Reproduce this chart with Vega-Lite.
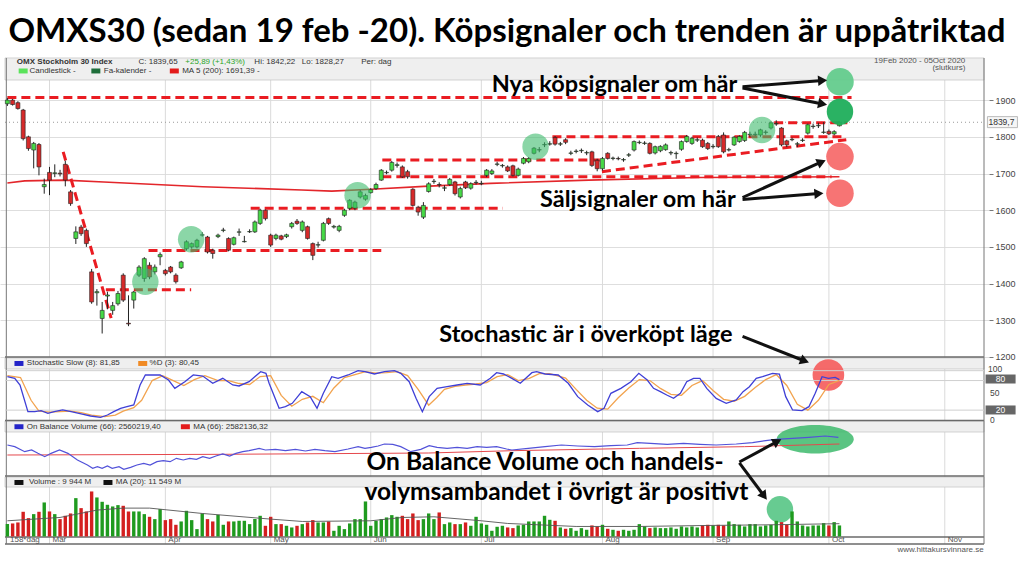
{
"$schema":"https://vega.github.io/schema/vega-lite/v6.json",
"width":989,"height":576,"padding":0,"background":"white",
"config":{"view":{"stroke":null},"font":"Liberation Sans"},
"datasets":{
"px":[{"i":0,"o":1890,"h":1906,"l":1884,"c":1900,"v":11.1},{"i":1,"o":1900,"h":1903,"l":1885,"c":1888,"v":11.7},{"i":2,"o":1893,"h":1897,"l":1874,"c":1877,"v":12.6},{"i":3,"o":1873,"h":1876,"l":1790,"c":1795,"v":22.2},{"i":4,"o":1800,"h":1803,"l":1762,"c":1768,"v":16.5},{"i":5,"o":1764,"h":1786,"l":1714,"c":1782,"v":20.1},{"i":6,"o":1779,"h":1783,"l":1695,"c":1718,"v":22.2},{"i":7,"o":1664,"h":1686,"l":1645,"c":1670,"v":30.6},{"i":8,"o":1703,"h":1718,"l":1641,"c":1682,"v":22.5},{"i":9,"o":1700,"h":1725,"l":1690,"c":1702,"v":20.1},{"i":10,"o":1701,"h":1710,"l":1692,"c":1699,"v":15.6},{"i":11,"o":1725,"h":1735,"l":1665,"c":1682,"v":18.6},{"i":12,"o":1650,"h":1655,"l":1612,"c":1618,"v":20.7},{"i":13,"o":1523,"h":1556,"l":1508,"c":1541,"v":34.5},{"i":14,"o":1554,"h":1560,"l":1530,"c":1536,"v":25.5},{"i":15,"o":1545,"h":1550,"l":1500,"c":1509,"v":22.5},{"i":16,"o":1432,"h":1440,"l":1345,"c":1350,"v":40.5},{"i":17,"o":1375,"h":1385,"l":1340,"c":1378,"v":35.1},{"i":18,"o":1305,"h":1350,"l":1264,"c":1327,"v":31.2},{"i":19,"o":1366,"h":1378,"l":1330,"c":1369,"v":28.5},{"i":20,"o":1327,"h":1350,"l":1315,"c":1340,"v":27.0},{"i":21,"o":1345,"h":1380,"l":1340,"c":1373,"v":28.2},{"i":22,"o":1423,"h":1428,"l":1350,"c":1355,"v":27.6},{"i":23,"o":1292,"h":1368,"l":1284,"c":1290,"v":22.5},{"i":24,"o":1355,"h":1380,"l":1332,"c":1377,"v":22.5},{"i":25,"o":1423,"h":1450,"l":1418,"c":1445,"v":22.5},{"i":26,"o":1414,"h":1472,"l":1405,"c":1468,"v":20.1},{"i":27,"o":1450,"h":1458,"l":1412,"c":1418,"v":17.7},{"i":28,"o":1432,"h":1452,"l":1425,"c":1445,"v":15.6},{"i":29,"o":1473,"h":1485,"l":1450,"c":1479,"v":24.6},{"i":30,"o":1436,"h":1440,"l":1422,"c":1427,"v":14.7},{"i":31,"o":1445,"h":1448,"l":1428,"c":1432,"v":15.6},{"i":32,"o":1423,"h":1428,"l":1400,"c":1405,"v":10.5},{"i":33,"o":1443,"h":1462,"l":1440,"c":1459,"v":13.5},{"i":34,"o":1495,"h":1518,"l":1490,"c":1514,"v":23.1},{"i":35,"o":1500,"h":1512,"l":1495,"c":1509,"v":14.7},{"i":36,"o":1500,"h":1522,"l":1496,"c":1518,"v":6.6},{"i":37,"o":1532,"h":1540,"l":1528,"c":1533,"v":20.7},{"i":38,"o":1527,"h":1530,"l":1482,"c":1486,"v":15.6},{"i":39,"o":1491,"h":1495,"l":1468,"c":1482,"v":13.5},{"i":40,"o":1528,"h":1536,"l":1524,"c":1532,"v":19.5},{"i":41,"o":1545,"h":1552,"l":1540,"c":1546,"v":10.5},{"i":42,"o":1523,"h":1526,"l":1488,"c":1491,"v":13.5},{"i":43,"o":1507,"h":1528,"l":1504,"c":1525,"v":13.5},{"i":44,"o":1540,"h":1550,"l":1530,"c":1541,"v":14.1},{"i":45,"o":1514,"h":1530,"l":1512,"c":1515,"v":14.1},{"i":46,"o":1541,"h":1548,"l":1538,"c":1542,"v":11.1},{"i":47,"o":1541,"h":1572,"l":1538,"c":1568,"v":15.6},{"i":48,"o":1564,"h":1604,"l":1560,"c":1600,"v":18.6},{"i":49,"o":1600,"h":1602,"l":1572,"c":1577,"v":9.6},{"i":50,"o":1532,"h":1536,"l":1500,"c":1505,"v":17.7},{"i":51,"o":1523,"h":1536,"l":1518,"c":1532,"v":11.1},{"i":52,"o":1530,"h":1533,"l":1518,"c":1521,"v":11.1},{"i":53,"o":1528,"h":1536,"l":1524,"c":1533,"v":9.6},{"i":54,"o":1555,"h":1568,"l":1550,"c":1564,"v":8.1},{"i":55,"o":1570,"h":1576,"l":1560,"c":1564,"v":9.6},{"i":56,"o":1545,"h":1572,"l":1540,"c":1568,"v":11.1},{"i":57,"o":1555,"h":1558,"l":1520,"c":1523,"v":12.6},{"i":58,"o":1509,"h":1512,"l":1464,"c":1477,"v":14.7},{"i":59,"o":1505,"h":1514,"l":1498,"c":1506,"v":12.6},{"i":60,"o":1518,"h":1568,"l":1515,"c":1564,"v":12.6},{"i":61,"o":1577,"h":1580,"l":1560,"c":1564,"v":13.5},{"i":62,"o":1554,"h":1560,"l":1550,"c":1556,"v":5.1},{"i":63,"o":1545,"h":1560,"l":1540,"c":1556,"v":9.6},{"i":64,"o":1586,"h":1604,"l":1582,"c":1600,"v":6.6},{"i":65,"o":1605,"h":1630,"l":1600,"c":1627,"v":11.7},{"i":66,"o":1606,"h":1626,"l":1600,"c":1622,"v":15.6},{"i":67,"o":1636,"h":1655,"l":1632,"c":1650,"v":15.6},{"i":68,"o":1630,"h":1645,"l":1626,"c":1640,"v":31.5},{"i":69,"o":1648,"h":1660,"l":1645,"c":1656,"v":9.6},{"i":70,"o":1659,"h":1675,"l":1655,"c":1670,"v":14.1},{"i":71,"o":1682,"h":1712,"l":1680,"c":1709,"v":15.6},{"i":72,"o":1702,"h":1708,"l":1698,"c":1703,"v":17.1},{"i":73,"o":1709,"h":1734,"l":1705,"c":1730,"v":19.2},{"i":74,"o":1722,"h":1730,"l":1716,"c":1724,"v":17.7},{"i":75,"o":1718,"h":1722,"l":1688,"c":1691,"v":18.6},{"i":76,"o":1705,"h":1710,"l":1686,"c":1691,"v":15.6},{"i":77,"o":1657,"h":1660,"l":1610,"c":1613,"v":20.7},{"i":78,"o":1608,"h":1612,"l":1585,"c":1595,"v":14.7},{"i":79,"o":1581,"h":1622,"l":1576,"c":1613,"v":15.6},{"i":80,"o":1651,"h":1676,"l":1648,"c":1672,"v":20.7},{"i":81,"o":1678,"h":1685,"l":1672,"c":1679,"v":15.6},{"i":82,"o":1670,"h":1676,"l":1662,"c":1669,"v":21.6},{"i":83,"o":1660,"h":1668,"l":1652,"c":1661,"v":11.1},{"i":84,"o":1670,"h":1688,"l":1666,"c":1684,"v":12.6},{"i":85,"o":1677,"h":1680,"l":1640,"c":1645,"v":11.1},{"i":86,"o":1636,"h":1664,"l":1632,"c":1659,"v":11.1},{"i":87,"o":1677,"h":1680,"l":1658,"c":1661,"v":12.6},{"i":88,"o":1660,"h":1676,"l":1656,"c":1672,"v":9.6},{"i":89,"o":1675,"h":1682,"l":1670,"c":1676,"v":17.7},{"i":90,"o":1672,"h":1680,"l":1668,"c":1673,"v":11.7},{"i":91,"o":1695,"h":1712,"l":1690,"c":1709,"v":10.5},{"i":92,"o":1700,"h":1712,"l":1696,"c":1707,"v":5.1},{"i":93,"o":1725,"h":1732,"l":1720,"c":1726,"v":8.7},{"i":94,"o":1721,"h":1726,"l":1716,"c":1722,"v":9.6},{"i":95,"o":1718,"h":1722,"l":1704,"c":1707,"v":8.1},{"i":96,"o":1721,"h":1724,"l":1692,"c":1695,"v":7.5},{"i":97,"o":1695,"h":1716,"l":1692,"c":1712,"v":9.9},{"i":98,"o":1728,"h":1745,"l":1725,"c":1741,"v":10.5},{"i":99,"o":1732,"h":1745,"l":1728,"c":1741,"v":13.5},{"i":100,"o":1755,"h":1772,"l":1752,"c":1769,"v":13.5},{"i":101,"o":1764,"h":1772,"l":1758,"c":1765,"v":13.5},{"i":102,"o":1778,"h":1785,"l":1772,"c":1779,"v":18.6},{"i":103,"o":1780,"h":1788,"l":1776,"c":1781,"v":15.0},{"i":104,"o":1798,"h":1802,"l":1776,"c":1780,"v":14.1},{"i":105,"o":1780,"h":1786,"l":1775,"c":1781,"v":8.1},{"i":106,"o":1792,"h":1796,"l":1780,"c":1785,"v":6.9},{"i":107,"o":1755,"h":1762,"l":1750,"c":1756,"v":7.5},{"i":108,"o":1760,"h":1766,"l":1755,"c":1761,"v":5.1},{"i":109,"o":1762,"h":1768,"l":1756,"c":1763,"v":7.5},{"i":110,"o":1756,"h":1762,"l":1750,"c":1757,"v":6.0},{"i":111,"o":1759,"h":1762,"l":1718,"c":1722,"v":9.9},{"i":112,"o":1736,"h":1740,"l":1706,"c":1713,"v":9.0},{"i":113,"o":1713,"h":1745,"l":1708,"c":1741,"v":10.5},{"i":114,"o":1755,"h":1758,"l":1738,"c":1741,"v":6.9},{"i":115,"o":1741,"h":1746,"l":1736,"c":1742,"v":6.0},{"i":116,"o":1741,"h":1746,"l":1736,"c":1740,"v":5.1},{"i":117,"o":1737,"h":1742,"l":1732,"c":1738,"v":6.0},{"i":118,"o":1750,"h":1756,"l":1745,"c":1751,"v":5.1},{"i":119,"o":1764,"h":1790,"l":1760,"c":1787,"v":6.0},{"i":120,"o":1784,"h":1790,"l":1780,"c":1785,"v":11.1},{"i":121,"o":1782,"h":1788,"l":1778,"c":1783,"v":9.0},{"i":122,"o":1782,"h":1785,"l":1752,"c":1755,"v":7.5},{"i":123,"o":1756,"h":1776,"l":1752,"c":1773,"v":8.1},{"i":124,"o":1762,"h":1777,"l":1758,"c":1774,"v":7.5},{"i":125,"o":1765,"h":1782,"l":1762,"c":1778,"v":7.5},{"i":126,"o":1756,"h":1762,"l":1750,"c":1757,"v":8.1},{"i":127,"o":1754,"h":1760,"l":1740,"c":1755,"v":6.9},{"i":128,"o":1766,"h":1790,"l":1762,"c":1787,"v":9.0},{"i":129,"o":1787,"h":1805,"l":1784,"c":1801,"v":8.1},{"i":130,"o":1782,"h":1800,"l":1778,"c":1796,"v":9.0},{"i":131,"o":1791,"h":1798,"l":1786,"c":1792,"v":8.1},{"i":132,"o":1791,"h":1795,"l":1770,"c":1773,"v":9.9},{"i":133,"o":1782,"h":1786,"l":1764,"c":1768,"v":10.5},{"i":134,"o":1773,"h":1780,"l":1768,"c":1774,"v":9.9},{"i":135,"o":1801,"h":1805,"l":1770,"c":1773,"v":10.5},{"i":136,"o":1805,"h":1812,"l":1755,"c":1759,"v":9.9},{"i":137,"o":1764,"h":1770,"l":1760,"c":1765,"v":13.5},{"i":138,"o":1778,"h":1802,"l":1775,"c":1799,"v":11.1},{"i":139,"o":1787,"h":1804,"l":1784,"c":1801,"v":10.5},{"i":140,"o":1790,"h":1816,"l":1786,"c":1812,"v":9.0},{"i":141,"o":1806,"h":1814,"l":1800,"c":1807,"v":11.1},{"i":142,"o":1806,"h":1814,"l":1802,"c":1807,"v":11.1},{"i":143,"o":1805,"h":1822,"l":1800,"c":1819,"v":9.0},{"i":144,"o":1812,"h":1818,"l":1806,"c":1813,"v":9.9},{"i":145,"o":1824,"h":1842,"l":1820,"c":1838,"v":10.5},{"i":146,"o":1835,"h":1845,"l":1830,"c":1836,"v":14.1},{"i":147,"o":1824,"h":1826,"l":1774,"c":1778,"v":12.9},{"i":148,"o":1789,"h":1792,"l":1772,"c":1778,"v":10.5},{"i":149,"o":1792,"h":1798,"l":1788,"c":1793,"v":22.5},{"i":150,"o":1780,"h":1786,"l":1772,"c":1781,"v":13.5},{"i":151,"o":1790,"h":1796,"l":1786,"c":1791,"v":9.9},{"i":152,"o":1810,"h":1836,"l":1806,"c":1833,"v":9.0},{"i":153,"o":1828,"h":1836,"l":1822,"c":1829,"v":9.9},{"i":154,"o":1830,"h":1838,"l":1824,"c":1831,"v":9.9},{"i":155,"o":1812,"h":1840,"l":1808,"c":1813,"v":12.0},{"i":156,"o":1815,"h":1820,"l":1805,"c":1808,"v":9.9},{"i":157,"o":1808,"h":1818,"l":1804,"c":1814,"v":12.9},{"i":158,"o":1830,"h":1842.22,"l":1828.27,"c":1839.65,"v":9.9}],
"ma":[{"i":0,"p":1674},{"i":3.3,"p":1680},{"i":10.8,"p":1682},{"i":18.3,"p":1677},{"i":37.1,"p":1664},{"i":55.9,"p":1655},{"i":61.6,"p":1652},{"i":69.1,"p":1657},{"i":79.1,"p":1665},{"i":91.7,"p":1673},{"i":110.4,"p":1682},{"i":131.1,"p":1689},{"i":158,"p":1691}],
"dl":[{"i":0,"p":1907,"i2":160.3,"p2":1907},{"i":10.6,"p":1759,"i2":19.7,"p2":1306},{"i":18.7,"p":1383,"i2":34.9,"p2":1383},{"i":26.8,"p":1490,"i2":71,"p2":1490},{"i":46.2,"p":1605,"i2":94.1,"p2":1605},{"i":71.2,"p":1737,"i2":112.5,"p2":1737},{"i":71.2,"p":1691,"i2":156.5,"p2":1691},{"i":103.5,"p":1800,"i2":159.3,"p2":1800},{"i":145.6,"p":1838,"i2":159.5,"p2":1838},{"i":112.9,"p":1705,"i2":159.3,"p2":1792}],
"sig":[{"i":26.2,"p":1405},{"i":34.9,"p":1521},{"i":66.5,"p":1641},{"i":100.3,"p":1773},{"i":143.3,"p":1818.6}],
"rc":[{"i":158.1,"p":1950,"k":"g1"},{"i":158.1,"p":1868.5,"k":"g2"},{"i":158.1,"p":1746,"k":"r"},{"i":158.1,"p":1646,"k":"r"}],
"stk":[{"i":0,"s":87.9},{"i":1.4,"s":84.5},{"i":2.4,"s":71},{"i":3.9,"s":16.9},{"i":5.2,"s":16.9},{"i":6.4,"s":18.9},{"i":7.7,"s":13.5},{"i":8.9,"s":16.9},{"i":10.5,"s":20.3},{"i":12.1,"s":16.9},{"i":14,"s":12.2},{"i":15.8,"s":8.1},{"i":17.7,"s":5.4},{"i":19,"s":10.1},{"i":20.2,"s":16.9},{"i":21.5,"s":23.7},{"i":22.7,"s":27},{"i":24,"s":30.4},{"i":25.2,"s":71},{"i":26.2,"s":91.3},{"i":29,"s":91.3},{"i":30.6,"s":81.1},{"i":31.8,"s":64.2},{"i":33.7,"s":77.7},{"i":35.3,"s":91.3},{"i":37.1,"s":89.2},{"i":39,"s":74.4},{"i":40.9,"s":84.5},{"i":42.8,"s":71},{"i":44,"s":69},{"i":45.9,"s":77.7},{"i":48.1,"s":98},{"i":49.1,"s":94.6},{"i":49.7,"s":74.4},{"i":51.6,"s":23.7},{"i":52.8,"s":27},{"i":54.1,"s":33.8},{"i":55.9,"s":57.5},{"i":57.5,"s":47.3},{"i":58.8,"s":23.7},{"i":60,"s":54.1},{"i":61.6,"s":87.9},{"i":62.8,"s":84.5},{"i":64.7,"s":91.3},{"i":66.6,"s":100},{"i":67.9,"s":98},{"i":69.7,"s":93.3},{"i":71.6,"s":98},{"i":73.5,"s":100},{"i":74.7,"s":94.6},{"i":76.3,"s":77.7},{"i":77.6,"s":43.9},{"i":78.8,"s":16.9},{"i":80.1,"s":47.3},{"i":81.6,"s":64.2},{"i":83.5,"s":67.6},{"i":85.4,"s":71},{"i":87.3,"s":74.4},{"i":89.8,"s":71},{"i":91.7,"s":84.5},{"i":92.9,"s":96},{"i":94.2,"s":93.3},{"i":95.8,"s":84.5},{"i":97.4,"s":74.4},{"i":99.6,"s":96},{"i":100.5,"s":98},{"i":102.1,"s":93.3},{"i":104.6,"s":91.3},{"i":106.5,"s":74.4},{"i":108.3,"s":47.3},{"i":110.2,"s":30.4},{"i":112.1,"s":16.9},{"i":113.3,"s":23.7},{"i":114.6,"s":54.1},{"i":116.5,"s":64.2},{"i":118.4,"s":77.7},{"i":119.9,"s":94.6},{"i":121.5,"s":81.1},{"i":122.7,"s":64.2},{"i":124,"s":57.5},{"i":125.2,"s":50.7},{"i":126.5,"s":43.9},{"i":127.8,"s":54.1},{"i":129,"s":77.7},{"i":130.3,"s":84.5},{"i":131.5,"s":84.5},{"i":132.8,"s":64.2},{"i":134.6,"s":43.9},{"i":136.5,"s":33.8},{"i":138.4,"s":40.6},{"i":139.7,"s":57.5},{"i":140.9,"s":67.6},{"i":142.2,"s":84.5},{"i":143.4,"s":87.9},{"i":145.3,"s":94.6},{"i":146.6,"s":93.3},{"i":147.8,"s":47.3},{"i":149.1,"s":20.3},{"i":150.9,"s":18.9},{"i":152.2,"s":27},{"i":153.4,"s":54.1},{"i":154.7,"s":87.9},{"i":155.9,"s":84.5},{"i":157.2,"s":86.5},{"i":158,"s":81.9}],
"std":[{"i":0,"s":90},{"i":2.5,"s":86},{"i":4.5,"s":40},{"i":6,"s":18},{"i":8,"s":16},{"i":10,"s":17},{"i":12,"s":18},{"i":14,"s":15},{"i":16,"s":10},{"i":18.5,"s":7},{"i":20.5,"s":10},{"i":22,"s":18},{"i":24,"s":25},{"i":25.5,"s":40},{"i":27.5,"s":80},{"i":29.5,"s":90},{"i":31.5,"s":80},{"i":33.5,"s":70},{"i":35.5,"s":82},{"i":37.5,"s":90},{"i":40,"s":80},{"i":42,"s":80},{"i":44,"s":74},{"i":46,"s":72},{"i":48,"s":88},{"i":50,"s":90},{"i":52,"s":50},{"i":54,"s":28},{"i":56,"s":42},{"i":58,"s":48},{"i":60,"s":35},{"i":62,"s":65},{"i":64,"s":86},{"i":66,"s":92},{"i":68,"s":98},{"i":70,"s":95},{"i":72,"s":96},{"i":74,"s":98},{"i":76,"s":90},{"i":78,"s":62},{"i":80,"s":30},{"i":81.5,"s":45},{"i":83,"s":62},{"i":85,"s":68},{"i":87,"s":71},{"i":89,"s":73},{"i":91,"s":76},{"i":93,"s":88},{"i":95,"s":92},{"i":97,"s":80},{"i":99,"s":84},{"i":101,"s":94},{"i":103,"s":94},{"i":106,"s":85},{"i":108,"s":62},{"i":110,"s":40},{"i":112,"s":24},{"i":114,"s":22},{"i":116,"s":45},{"i":118,"s":65},{"i":120,"s":82},{"i":122,"s":80},{"i":124,"s":64},{"i":126,"s":52},{"i":128,"s":50},{"i":130,"s":70},{"i":132,"s":80},{"i":134,"s":60},{"i":136,"s":42},{"i":138,"s":38},{"i":140,"s":48},{"i":142,"s":66},{"i":144,"s":82},{"i":146,"s":92},{"i":148,"s":70},{"i":150,"s":32},{"i":152,"s":20},{"i":154,"s":40},{"i":156,"s":72},{"i":158,"s":80.5}],
"obv":[{"i":0,"v":2715},{"i":1.4,"v":2710},{"i":3.3,"v":2695},{"i":4.6,"v":2700},{"i":5.8,"v":2690},{"i":7.1,"v":2680},{"i":8.3,"v":2690},{"i":9.9,"v":2700},{"i":11.5,"v":2690},{"i":13.3,"v":2670},{"i":15.2,"v":2655},{"i":16.2,"v":2645},{"i":17.1,"v":2650},{"i":18,"v":2645},{"i":19,"v":2652},{"i":19.9,"v":2645},{"i":21.2,"v":2650},{"i":22.1,"v":2642},{"i":23.4,"v":2648},{"i":24.6,"v":2655},{"i":25.9,"v":2660},{"i":27.1,"v":2655},{"i":28.4,"v":2665},{"i":29.6,"v":2668},{"i":30.9,"v":2665},{"i":32.1,"v":2675},{"i":33.4,"v":2670},{"i":34.6,"v":2675},{"i":35.9,"v":2672},{"i":37.1,"v":2680},{"i":38.4,"v":2675},{"i":39.6,"v":2682},{"i":40.9,"v":2688},{"i":42.2,"v":2682},{"i":43.4,"v":2690},{"i":44.7,"v":2695},{"i":45.9,"v":2698},{"i":47.8,"v":2705},{"i":49,"v":2700},{"i":50.9,"v":2702},{"i":52.8,"v":2698},{"i":54.7,"v":2702},{"i":56.6,"v":2697},{"i":58.4,"v":2702},{"i":60.3,"v":2698},{"i":62.2,"v":2695},{"i":64.7,"v":2703},{"i":66.6,"v":2710},{"i":67.9,"v":2705},{"i":69.1,"v":2708},{"i":70.4,"v":2712},{"i":71.6,"v":2718},{"i":73.2,"v":2717},{"i":74.7,"v":2710},{"i":76.6,"v":2695},{"i":78.5,"v":2702},{"i":80.1,"v":2713},{"i":81.6,"v":2708},{"i":83.5,"v":2705},{"i":85.4,"v":2708},{"i":87.3,"v":2705},{"i":89.2,"v":2710},{"i":91,"v":2708},{"i":92.9,"v":2710},{"i":94.8,"v":2703},{"i":95.8,"v":2700},{"i":98.9,"v":2705},{"i":102.1,"v":2710},{"i":105.2,"v":2715},{"i":108.3,"v":2712},{"i":111.5,"v":2710},{"i":114.6,"v":2713},{"i":117.7,"v":2715},{"i":119.6,"v":2722},{"i":122.1,"v":2720},{"i":125.3,"v":2717},{"i":128.4,"v":2720},{"i":131.5,"v":2717},{"i":134.6,"v":2715},{"i":138.4,"v":2718},{"i":141.5,"v":2722},{"i":144,"v":2728},{"i":145.9,"v":2732},{"i":149.1,"v":2735},{"i":152.2,"v":2738},{"i":155.3,"v":2742},{"i":157.8,"v":2738}],
"obvma":[{"i":0,"v":2685},{"i":40,"v":2687},{"i":80,"v":2691},{"i":96,"v":2698},{"i":120,"v":2705},{"i":140,"v":2710},{"i":158,"v":2718}],
"vma":[{"i":0,"v":14.1},{"i":10,"v":17.1},{"i":17,"v":23.7},{"i":22,"v":25.5},{"i":27,"v":25.5},{"i":37,"v":20.7},{"i":50,"v":15.6},{"i":56,"v":13.5},{"i":69,"v":14.1},{"i":75,"v":17.1},{"i":81,"v":17.7},{"i":90,"v":14.1},{"i":95,"v":11.7},{"i":108,"v":9.0},{"i":120,"v":9.0},{"i":133,"v":9.9},{"i":145,"v":10.5},{"i":158,"v":11.5}],
"months":[{"i":8,"t":"Mar"},{"i":30,"t":"Apr"},{"i":50,"t":"May"},{"i":69,"t":"Jun"},{"i":90,"t":"Jul"},{"i":113,"t":"Aug"},{"i":134,"t":"Sep"},{"i":156,"t":"Oct"},{"i":178,"t":"Nov"}],
"bands":[{"p":2014.8,"p2":1954.8},{"p":1197.3,"p2":1167.3},{"p":1025.6,"p2":995.6},{"p":872.9,"p2":845.6}],
"seps":[{"p":1200},{"p":1026.9},{"p":875.7},{"p":690.4},{"p":709.5}],
"hdr":[{"i":24.9,"p":2003,"t":"C: 1839,65"},{"i":46.9,"p":2003,"t":"Hi: 1842,22"},{"i":55.9,"p":2003,"t":"Lo: 1828,27"},{"i":67.2,"p":2003,"t":"Per: dag"},{"i":4.2,"p":1979.4,"t":"Candlestick  -"},{"i":18.3,"p":1979.4,"t":"Fa-kalender  -"},{"i":33.2,"p":1979.4,"t":"MA 5 (200): 1691,39  -"},{"i":3.7,"p":1182.3,"t":"Stochastic Slow (8): 81,85"},{"i":27,"p":1182.3,"t":"%D (3): 80,45"},{"i":3.7,"p":1010,"t":"On Balance Volume (66): 2560219,40"},{"i":35.3,"p":1010,"t":"MA (66): 2582136,32"},{"i":4.1,"p":858,"t":"Volume : 9 944 M"},{"i":20.6,"p":858,"t":"MA (20): 11 549 M"}],
"sq":[{"i":3.0,"p":1979.4,"k":"lg"},{"i":16.8,"p":1979.4,"k":"dg"},{"i":31.7,"p":1979.4,"k":"rd"},{"i":2.2,"p":1182.3,"k":"bl"},{"i":25.7,"p":1182.3,"k":"or"},{"i":2.2,"p":1010,"k":"bl"},{"i":33.8,"p":1010,"k":"rd"},{"i":2.2,"p":858,"k":"bk"},{"i":19.1,"p":858,"k":"bk"}],
"arrows":[{"i":139.6,"p":1936.6,"i2":154.8,"p2":1953.5,"a":86},{"i":139.6,"p":1933,"i2":154.8,"p2":1889.4,"a":101},{"i":139.6,"p":1634.6,"i2":154.6,"p2":1731.4,"a":66},{"i":139.6,"p":1629.2,"i2":154.1,"p2":1645.5,"a":85.5},{"i":139.6,"p":1255.9,"i2":151.4,"p2":1189.1,"a":111},{"i":139,"p":913.9,"i2":146.2,"p2":969.7,"a":62},{"i":139,"p":911.2,"i2":143.7,"p2":821.2,"a":143}],
"rl":[{"i":186.2,"p":1167,"t":"100"},{"i":186.6,"p":1102,"t":"50"},{"i":186.6,"p":1028,"t":"0"}],
"rb":[{"i":188.6,"p":1140,"t":"80"},{"i":188.6,"p":1055.6,"t":"20"}],
"sgrid":[{"s":100,"i":-0.45,"i2":185.45},{"s":80,"i":-0.45,"i2":185.45},{"s":20,"i":-0.45,"i2":185.45}],
"notes":[{"i":138.6,"p":1941,"t":"Nya köpsignaler om här","al":"r"},{"i":138.3,"p":1628,"t":"Säljsignaler om här","al":"r"},{"i":137.7,"p":1260,"t":"Stochastic är i överköpt läge","al":"r"},{"i":68.2,"p":911,"t":"On Balance Volume och handels-","al":"l"},{"i":67.8,"p":829,"t":"volymsambandet i övrigt är positivt","al":"l"}],
"heads":[{"i":1.8,"p":2003,"t":"OMX Stockholm 30 Index"}],
"chg":[{"i":33.8,"p":2003,"t":"+25,89 (+1,43%)"}],
"tr":[{"i":181.9,"p":2006.6,"t":"19Feb 2020 - 05Oct 2020"},{"i":181.9,"p":1987.5,"t":"(slutkurs)"},{"i":185.4,"p":674,"t":"www.hittakursvinnare.se"}],
"foot":[{"i":0.5,"p":700,"t":"158*dag"}],
"title":[{"i":0.2,"p":2085,"t":"OMXS30 (sedan 19 feb -20). Köpsignaler och trenden är uppåtriktad"}],
"lastpx":[{"i":186.1,"p":1840,"t":"1839,7","i2":191.8,"p1":1825,"p2":1855}],
"pcirc":[{"i":155.9,"p":1151,"k":"stoch"},{"i":146.7,"p":785,"k":"vol"}],
"pell":[{"i":153.4,"p":975.7}],
"frame":[{"i":-0.45,"i2":185.45,"p":1839.65}],
"vlines":[{"i":185.45,"p":2014.8,"p2":690.4},{"i":-0.2,"p":2014.8,"p2":690.4}]
},
"layer":[
{"layer":[
{"data":{"name":"months"},"mark":{"type":"rule","color":"#dadada","strokeWidth":1},"encoding":{"x":{"field":"i","type":"quantitative","scale":{"domain":[-0.45,185.45],"nice":false,"zero":false},"axis":null},"y":{"datum":1954.8,"axis":null},"y2":{"datum":690.4}}},
{"data":{"name":"bands"},"mark":{"type":"rect","fill":"#efefef","stroke":"#c8c8c8","strokeWidth":0.8},"encoding":{"x":{"datum":-0.45,"axis":null},"x2":{"datum":185.45},"y":{"field":"p","type":"quantitative","scale":{"domain":[603.2,2172.8],"nice":false,"zero":false},"axis":null},"y2":{"field":"p2"}}},
{"data":{"name":"seps"},"mark":{"type":"rule","color":"#6a6a6a","strokeWidth":1.6},"encoding":{"x":{"datum":-0.45,"axis":null},"x2":{"datum":185.45},"y":{"field":"p","type":"quantitative","axis":null}}},
{"data":{"name":"frame"},"mark":{"type":"rule","color":"#999","strokeDash":[1,3]},"encoding":{"x":{"field":"i","type":"quantitative","axis":null},"x2":{"field":"i2"},"y":{"field":"p","type":"quantitative","axis":null}}},
{"data":{"name":"vlines"},"mark":{"type":"rule","color":"#777","strokeWidth":1},"encoding":{"x":{"field":"i","type":"quantitative","axis":null},"y":{"field":"p","type":"quantitative","axis":null},"y2":{"field":"p2"}}},
{"data":{"name":"pcirc"},"transform":[{"filter":"datum.k == 'stoch'"}],"mark":{"type":"point","filled":true,"color":"#f55b5b","opacity":0.9,"size":1000},"encoding":{"x":{"field":"i","type":"quantitative","axis":null},"y":{"field":"p","type":"quantitative","axis":null}}},
{"data":{"name":"pcirc"},"transform":[{"filter":"datum.k == 'vol'"}],"mark":{"type":"point","filled":true,"color":"#4cc27e","opacity":0.85,"size":700},"encoding":{"x":{"field":"i","type":"quantitative","axis":null},"y":{"field":"p","type":"quantitative","axis":null}}},
{"data":{"name":"pell"},"mark":{"type":"point","filled":true,"color":"#3dba6c","opacity":0.85,"size":5929,"shape":"M -1 0 A 1 0.37 0 1 1 1 0 A 1 0.37 0 1 1 -1 0 Z"},"encoding":{"x":{"field":"i","type":"quantitative","axis":null},"y":{"field":"p","type":"quantitative","axis":null}}},
{"data":{"name":"ma"},"mark":{"type":"line","color":"#e3262b","strokeWidth":1.6},"encoding":{"x":{"field":"i","type":"quantitative","axis":null},"y":{"field":"p","type":"quantitative","axis":null}}},
{"data":{"name":"dl"},"mark":{"type":"rule","color":"#ea1c22","strokeWidth":3,"strokeDash":[9,5]},"encoding":{"x":{"field":"i","type":"quantitative","axis":null},"y":{"field":"p","type":"quantitative","axis":null},"x2":{"field":"i2"},"y2":{"field":"p2"}}}
]},
{"data":{"name":"px"},"mark":{"type":"rule","color":"#222","strokeWidth":1},"encoding":{"x":{"field":"i","type":"quantitative","scale":{"domain":[-0.45,185.45],"nice":false,"zero":false},"axis":null},"y":{"field":"l","type":"quantitative","scale":{"domain":[603.2,2172.8],"nice":false,"zero":false},"axis":{"orient":"right","values":[1200,1300,1400,1500,1600,1700,1800,1900],"format":"d","grid":true,"gridColor":"#dedede","domain":false,"tickColor":"#777","tickSize":4,"labelFontSize":9,"labelColor":"#444","labelPadding":2,"title":null}},"y2":{"field":"h"}}},
{"data":{"name":"px"},"mark":{"type":"bar","size":4,"stroke":"#222","strokeWidth":0.6},"encoding":{"x":{"field":"i","type":"quantitative","axis":null},"y":{"field":"o","type":"quantitative","scale":{"domain":[603.2,2172.8],"nice":false,"zero":false},"axis":null},"y2":{"field":"c"},"fill":{"condition":{"test":"datum.c >= datum.o","value":"#46d846"},"value":"#d62a2a"}}},
{"layer":[
{"data":{"name":"sig"},"mark":{"type":"point","filled":true,"size":700,"color":"#3dba6c","opacity":0.6},"encoding":{"x":{"field":"i","type":"quantitative","axis":null},"y":{"field":"p","type":"quantitative","scale":{"domain":[603.2,2172.8],"nice":false,"zero":false},"axis":null}}},
{"data":{"name":"rc"},"transform":[{"filter":"datum.k == 'g1'"}],"mark":{"type":"point","filled":true,"opacity":0.92,"size":760,"color":"#5fcb8a"},"encoding":{"x":{"field":"i","type":"quantitative","axis":null},"y":{"field":"p","type":"quantitative","axis":null}}},
{"data":{"name":"rc"},"transform":[{"filter":"datum.k == 'g2'"}],"mark":{"type":"point","filled":true,"opacity":0.95,"size":700,"color":"#1fae5b"},"encoding":{"x":{"field":"i","type":"quantitative","axis":null},"y":{"field":"p","type":"quantitative","axis":null}}},
{"data":{"name":"rc"},"transform":[{"filter":"datum.k == 'r'"}],"mark":{"type":"point","filled":true,"opacity":0.92,"size":760,"color":"#f66868"},"encoding":{"x":{"field":"i","type":"quantitative","axis":null},"y":{"field":"p","type":"quantitative","axis":null}}},
{"data":{"name":"hdr"},"mark":{"type":"text","align":"left","baseline":"middle","fontSize":8,"color":"#333"},"encoding":{"x":{"field":"i","type":"quantitative","axis":null},"y":{"field":"p","type":"quantitative","axis":null},"text":{"field":"t"}}},
{"data":{"name":"heads"},"mark":{"type":"text","align":"left","baseline":"middle","fontSize":8,"fontWeight":"bold","color":"#333"},"encoding":{"x":{"field":"i","type":"quantitative","axis":null},"y":{"field":"p","type":"quantitative","axis":null},"text":{"field":"t"}}},
{"data":{"name":"chg"},"mark":{"type":"text","align":"left","baseline":"middle","fontSize":8,"color":"#2aa52a"},"encoding":{"x":{"field":"i","type":"quantitative","axis":null},"y":{"field":"p","type":"quantitative","axis":null},"text":{"field":"t"}}},
{"data":{"name":"tr"},"mark":{"type":"text","align":"right","baseline":"middle","fontSize":8,"color":"#555"},"encoding":{"x":{"field":"i","type":"quantitative","axis":null},"y":{"field":"p","type":"quantitative","axis":null},"text":{"field":"t"}}},
{"data":{"name":"foot"},"mark":{"type":"text","align":"left","baseline":"middle","fontSize":8,"color":"#555"},"encoding":{"x":{"field":"i","type":"quantitative","axis":null},"y":{"field":"p","type":"quantitative","axis":null},"text":{"field":"t"}}},
{"data":{"name":"months"},"mark":{"type":"text","align":"left","baseline":"middle","fontSize":8,"color":"#555","dx":3},"encoding":{"x":{"field":"i","type":"quantitative","axis":null},"y":{"datum":700,"axis":null},"text":{"field":"t"}}},
{"data":{"name":"sq"},"transform":[{"filter":"datum.k == 'lg'"}],"mark":{"type":"point","filled":true,"opacity":1,"size":81,"color":"#5be35b","shape":"M -1 -0.55 L 1 -0.55 L 1 0.55 L -1 0.55 Z"},"encoding":{"x":{"field":"i","type":"quantitative","axis":null},"y":{"field":"p","type":"quantitative","axis":null}}},
{"data":{"name":"sq"},"transform":[{"filter":"datum.k == 'dg'"}],"mark":{"type":"point","filled":true,"opacity":1,"size":81,"color":"#1e6e3a","shape":"M -1 -0.55 L 1 -0.55 L 1 0.55 L -1 0.55 Z"},"encoding":{"x":{"field":"i","type":"quantitative","axis":null},"y":{"field":"p","type":"quantitative","axis":null}}},
{"data":{"name":"sq"},"transform":[{"filter":"datum.k == 'rd'"}],"mark":{"type":"point","filled":true,"opacity":1,"size":81,"color":"#e31b1b","shape":"M -1 -0.55 L 1 -0.55 L 1 0.55 L -1 0.55 Z"},"encoding":{"x":{"field":"i","type":"quantitative","axis":null},"y":{"field":"p","type":"quantitative","axis":null}}},
{"data":{"name":"sq"},"transform":[{"filter":"datum.k == 'bl'"}],"mark":{"type":"point","filled":true,"opacity":1,"size":81,"color":"#2424c8","shape":"M -1 -0.55 L 1 -0.55 L 1 0.55 L -1 0.55 Z"},"encoding":{"x":{"field":"i","type":"quantitative","axis":null},"y":{"field":"p","type":"quantitative","axis":null}}},
{"data":{"name":"sq"},"transform":[{"filter":"datum.k == 'or'"}],"mark":{"type":"point","filled":true,"opacity":1,"size":81,"color":"#f08a24","shape":"M -1 -0.55 L 1 -0.55 L 1 0.55 L -1 0.55 Z"},"encoding":{"x":{"field":"i","type":"quantitative","axis":null},"y":{"field":"p","type":"quantitative","axis":null}}},
{"data":{"name":"sq"},"transform":[{"filter":"datum.k == 'bk'"}],"mark":{"type":"point","filled":true,"opacity":1,"size":81,"color":"#111111","shape":"M -1 -0.55 L 1 -0.55 L 1 0.55 L -1 0.55 Z"},"encoding":{"x":{"field":"i","type":"quantitative","axis":null},"y":{"field":"p","type":"quantitative","axis":null}}}
]},
{"layer":[
{"data":{"name":"sgrid"},"mark":{"type":"rule","color":"#cfcfcf","strokeWidth":1},"encoding":{"x":{"field":"i","type":"quantitative","axis":null},"x2":{"field":"i2"},"y":{"field":"s","type":"quantitative","scale":{"domain":[-316.4,851.8],"nice":false,"zero":false},"axis":null}}},
{"data":{"name":"std"},"mark":{"type":"line","color":"#f2a34e","strokeWidth":1.3},"encoding":{"x":{"field":"i","type":"quantitative","axis":null},"y":{"field":"s","type":"quantitative","axis":null}}},
{"data":{"name":"stk"},"mark":{"type":"line","color":"#3f3fd6","strokeWidth":1.3},"encoding":{"x":{"field":"i","type":"quantitative","axis":null},"y":{"field":"s","type":"quantitative","axis":null}}}
]},
{"layer":[
{"data":{"name":"obvma"},"mark":{"type":"line","color":"#e5484d","strokeWidth":1},"encoding":{"x":{"field":"i","type":"quantitative","axis":null},"y":{"field":"v","type":"quantitative","scale":{"domain":[2322,4050],"nice":false,"zero":false},"axis":null}}},
{"data":{"name":"obv"},"mark":{"type":"line","color":"#5252d9","strokeWidth":1.2},"encoding":{"x":{"field":"i","type":"quantitative","axis":null},"y":{"field":"v","type":"quantitative","axis":null}}}
]},
{"layer":[
{"data":{"name":"px"},"mark":{"type":"bar","size":3.4},"encoding":{"x":{"field":"i","type":"quantitative","axis":null},"y":{"field":"v","type":"quantitative","scale":{"domain":[-35.6,482.9],"nice":false,"zero":false},"axis":null},"y2":{"datum":0},"fill":{"condition":{"test":"datum.c >= datum.o","value":"#1f9b1f"},"value":"#d41f1f"}}},
{"data":{"name":"vma"},"mark":{"type":"line","color":"#555","strokeWidth":0.9},"encoding":{"x":{"field":"i","type":"quantitative","axis":null},"y":{"field":"v","type":"quantitative","axis":null}}}
]},
{"layer":[
{"data":{"name":"arrows"},"mark":{"type":"rule","color":"#111","strokeWidth":3},"encoding":{"x":{"field":"i","type":"quantitative","axis":null},"y":{"field":"p","type":"quantitative","scale":{"domain":[603.2,2172.8],"nice":false,"zero":false},"axis":null},"x2":{"field":"i2"},"y2":{"field":"p2"}}},
{"data":{"name":"arrows"},"mark":{"type":"point","shape":"triangle-up","filled":true,"color":"#111","opacity":1,"size":110},"encoding":{"x":{"field":"i2","type":"quantitative","axis":null},"y":{"field":"p2","type":"quantitative","axis":null},"angle":{"field":"a","type":"quantitative","scale":null}}},
{"data":{"name":"title"},"mark":{"type":"text","font":"Lato","fontWeight":"bold","fontSize":33,"align":"left","baseline":"middle","color":"#000"},"encoding":{"x":{"field":"i","type":"quantitative","axis":null},"y":{"field":"p","type":"quantitative","axis":null},"text":{"field":"t"}}},
{"data":{"name":"notes"},"transform":[{"filter":"datum.al == 'r'"}],"mark":{"type":"text","font":"Lato","fontWeight":"bold","fontSize":23.5,"align":"right","baseline":"middle","color":"#000"},"encoding":{"x":{"field":"i","type":"quantitative","axis":null},"y":{"field":"p","type":"quantitative","axis":null},"text":{"field":"t"}}},
{"data":{"name":"notes"},"transform":[{"filter":"datum.al == 'l'"}],"mark":{"type":"text","font":"Lato","fontWeight":"bold","fontSize":24.5,"align":"left","baseline":"middle","color":"#000"},"encoding":{"x":{"field":"i","type":"quantitative","axis":null},"y":{"field":"p","type":"quantitative","axis":null},"text":{"field":"t"}}},
{"data":{"name":"lastpx"},"mark":{"type":"rect","fill":"#f6f6f6","stroke":"#aaa","strokeWidth":0.8},"encoding":{"x":{"field":"i","type":"quantitative","axis":null},"x2":{"field":"i2"},"y":{"field":"p1","type":"quantitative","axis":null},"y2":{"field":"p2"}}},
{"data":{"name":"lastpx"},"mark":{"type":"text","align":"left","baseline":"middle","fontSize":8.5,"color":"#333","dx":1},"encoding":{"x":{"field":"i","type":"quantitative","axis":null},"y":{"field":"p","type":"quantitative","axis":null},"text":{"field":"t"}}},
{"data":{"name":"rl"},"mark":{"type":"text","align":"left","baseline":"middle","fontSize":8.5,"color":"#444"},"encoding":{"x":{"field":"i","type":"quantitative","axis":null},"y":{"field":"p","type":"quantitative","axis":null},"text":{"field":"t"}}},
{"data":{"name":"rb"},"mark":{"type":"point","filled":true,"color":"#666","opacity":1,"size":900,"shape":"M -1 -0.3 L 1 -0.3 L 1 0.3 L -1 0.3 Z"},"encoding":{"x":{"field":"i","type":"quantitative","axis":null},"y":{"field":"p","type":"quantitative","axis":null}}},
{"data":{"name":"rb"},"mark":{"type":"text","align":"center","baseline":"middle","fontSize":8.5,"color":"#fff"},"encoding":{"x":{"field":"i","type":"quantitative","axis":null},"y":{"field":"p","type":"quantitative","axis":null},"text":{"field":"t"}}}
]}
],
"resolve":{"scale":{"y":"independent"},"axis":{"y":"independent"}}
}
